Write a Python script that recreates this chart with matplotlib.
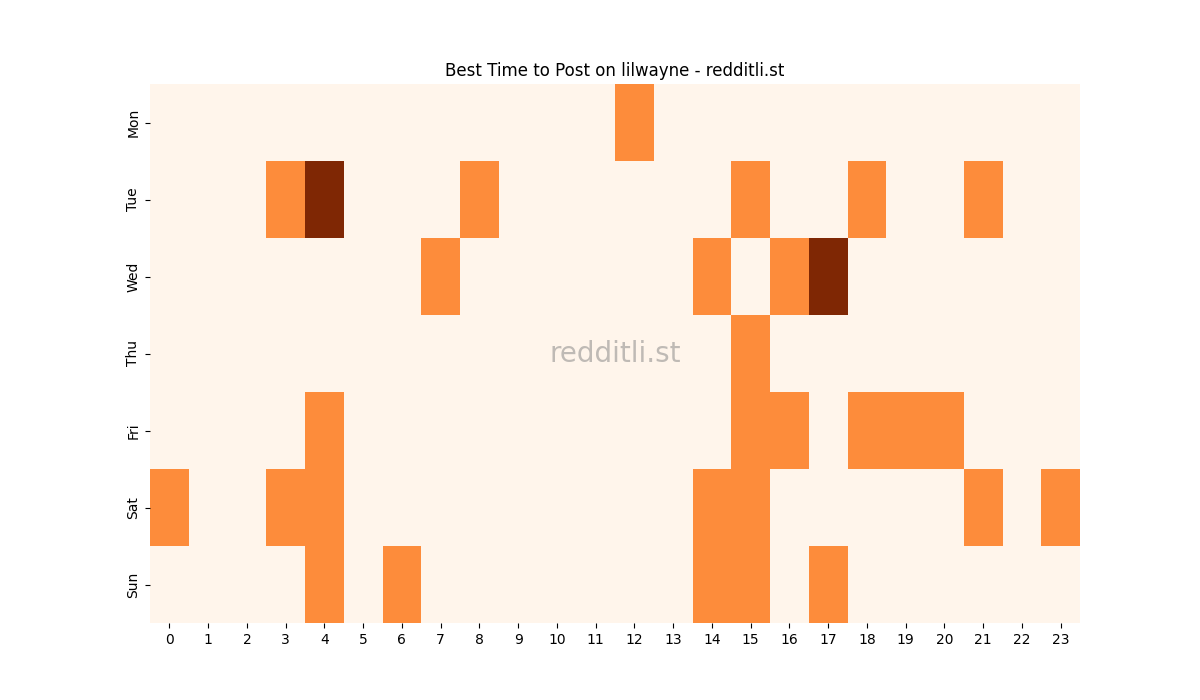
import numpy as np
import matplotlib
matplotlib.use("Agg")
import matplotlib.pyplot as plt
import seaborn as sns

days = ["Mon", "Tue", "Wed", "Thu", "Fri", "Sat", "Sun"]
hours = list(range(24))

# posts per (day, hour)
mon = [0,0,0,0,0,0,0,0,0,0,0,0,1,0,0,0,0,0,0,0,0,0,0,0]
tue = [0,0,0,1,2,0,0,0,1,0,0,0,0,0,0,1,0,0,1,0,0,1,0,0]
wed = [0,0,0,0,0,0,0,1,0,0,0,0,0,0,1,0,1,2,0,0,0,0,0,0]
thu = [0,0,0,0,0,0,0,0,0,0,0,0,0,0,0,1,0,0,0,0,0,0,0,0]
fri = [0,0,0,0,1,0,0,0,0,0,0,0,0,0,0,1,1,0,1,1,1,0,0,0]
sat = [1,0,0,1,1,0,0,0,0,0,0,0,0,0,1,1,0,0,0,0,0,1,0,1]
sun = [0,0,0,0,1,0,1,0,0,0,0,0,0,0,1,1,0,1,0,0,0,0,0,0]

data = np.array([mon, tue, wed, thu, fri, sat, sun])

fig = plt.figure(figsize=(12, 7), dpi=100)
ax = sns.heatmap(data, cmap="Oranges", cbar=False, xticklabels=hours, yticklabels=days)
ax.set_title("Best Time to Post on lilwayne - redditli.st")
ax.text(0.5, 0.5, "redditli.st", fontsize=20, color="gray", alpha=0.5,
        ha="center", va="center", transform=ax.transAxes)
plt.savefig("out.png")
